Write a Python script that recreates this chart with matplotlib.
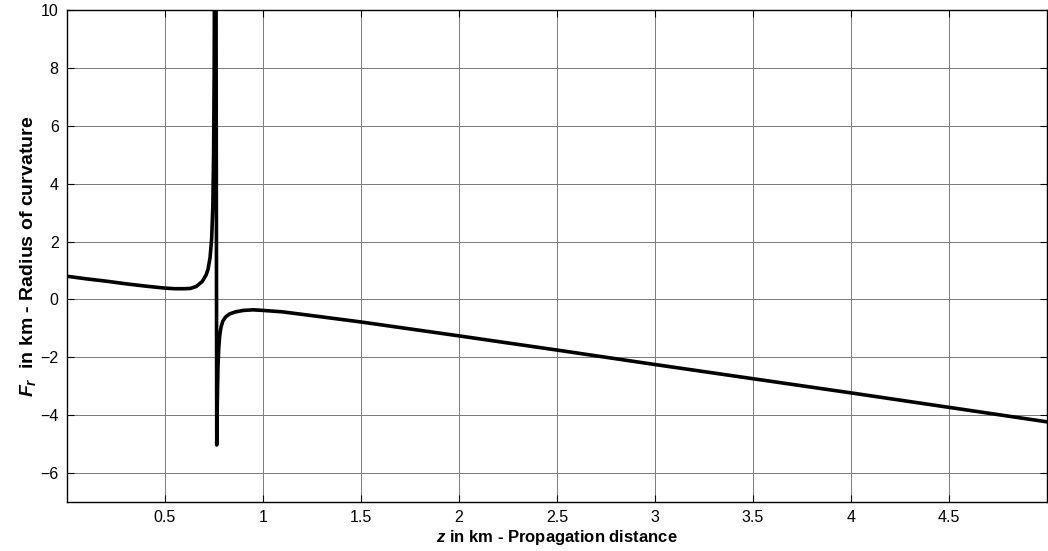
import numpy as np
import matplotlib
matplotlib.use('Agg')
import matplotlib.pyplot as plt

plt.rcParams['font.family'] = ['Liberation Sans', 'DejaVu Sans']
plt.rcParams['mathtext.fontset'] = 'custom'
plt.rcParams['mathtext.it'] = 'Liberation Sans:italic:bold'
plt.rcParams['mathtext.rm'] = 'Liberation Sans:bold'

# curve (z in km, F_r in km)
z = [0.0, 0.1, 0.2, 0.3, 0.4, 0.5, 0.55, 0.6, 0.63, 0.66, 0.69, 0.71,
     0.72, 0.73, 0.738, 0.744, 0.748, 0.751, 0.754, 0.756,
     0.764, 0.767, 0.770, 0.774, 0.779, 0.786, 0.795, 0.81, 0.83, 0.86,
     0.9, 0.95, 1.0, 1.1, 1.25, 1.5, 1.75, 2.0, 2.5, 3.0, 3.5, 4.0, 4.5, 5.0]
fr = [0.80, 0.71, 0.63, 0.54, 0.46, 0.39, 0.37, 0.37, 0.38, 0.45, 0.62, 0.85,
      1.05, 1.45, 2.1, 3.2, 5.0, 8.0, 14.0, 30.0,
      -5.03, -3.5, -2.4, -1.7, -1.25, -0.95, -0.75, -0.6, -0.5, -0.43,
      -0.38, -0.36, -0.38, -0.43, -0.56, -0.78, -1.02, -1.26, -1.75, -2.25,
      -2.74, -3.23, -3.73, -4.23]

xticks = [0.5, 1, 1.5, 2, 2.5, 3, 3.5, 4, 4.5]
yticks = [-6, -4, -2, 0, 2, 4, 6, 8, 10]

fig = plt.figure(figsize=(10.48, 5.51), dpi=100)
ax = fig.add_axes([67 / 1048, 49 / 551, 980 / 1048, 492 / 551])
ax.plot(z, fr, color='black', lw=2.6, solid_joinstyle='round')
ax.set_xlim(0, 5)
ax.set_ylim(-7, 10)
ax.set_xticks(xticks)
ax.set_xticklabels([f'{t:g}' for t in xticks])
ax.set_yticks(yticks)
ax.grid(True, color='#7a7a7a', lw=0.7)
ax.tick_params(direction='in', top=True, right=True, labelsize=11.5,
               length=5, width=0.8, pad=6)
for s in ax.spines.values():
    s.set_linewidth(1.0)

ax.set_xlabel(r'$z$ in km - Propagation distance', fontsize=12,
              fontweight='bold', labelpad=2)
ax.set_ylabel(r'$F_r$  in km - Radius of curvature', fontsize=14,
              fontweight='bold', labelpad=2)

fig.savefig('out.png', dpi=100)
